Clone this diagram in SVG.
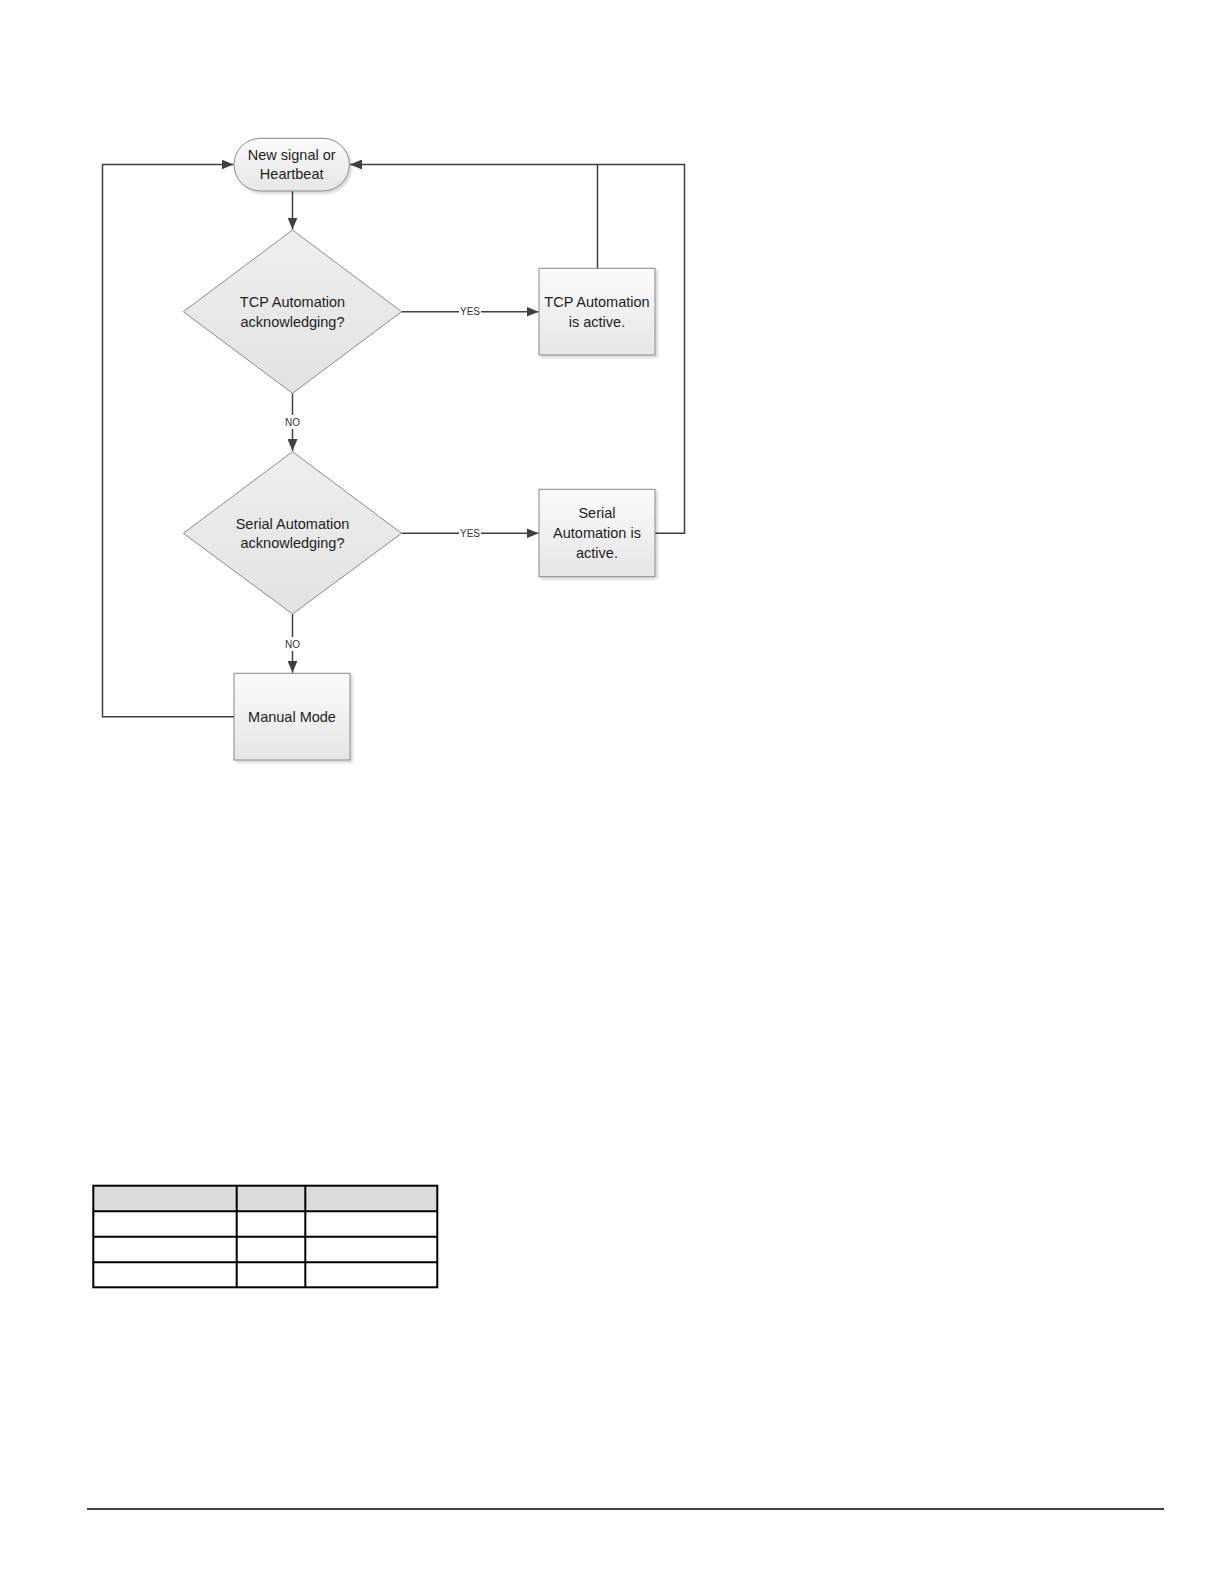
<svg xmlns="http://www.w3.org/2000/svg" width="1224" height="1584" viewBox="0 0 1224 1584">
<style>
.lbl{font-family:"Liberation Sans",Arial,sans-serif;font-size:14.5px;fill:#1e1e1e;text-anchor:middle;dominant-baseline:central}
.small{font-family:"Liberation Sans",Arial,sans-serif;font-size:10px;fill:#333;text-anchor:middle;dominant-baseline:central}
.shape{stroke:#8a8a8a;stroke-width:1}
.conn{fill:none;stroke:#404040;stroke-width:1.5}
.tbl{fill:none;stroke:#000;stroke-width:2}
</style>
<defs>
<linearGradient id="gBox" x1="0" y1="0" x2="0" y2="1">
<stop offset="0" stop-color="#fbfbfb"/>
<stop offset="1" stop-color="#e6e6e6"/>
</linearGradient>
<linearGradient id="gDia" x1="0" y1="0" x2="0" y2="1">
<stop offset="0" stop-color="#eeeeee"/>
<stop offset="1" stop-color="#e3e3e3"/>
</linearGradient>
<filter id="sh" x="-10%" y="-10%" width="130%" height="130%">
<feDropShadow dx="2" dy="2" stdDeviation="1.5" flood-color="#000" flood-opacity="0.18"/>
</filter>
<marker id="arr" viewBox="0 0 12 10" refX="12" refY="5" markerWidth="12" markerHeight="10" markerUnits="userSpaceOnUse" orient="auto">
<path d="M0,0 L12,5 L0,10 Z" fill="#404040"/>
</marker>
</defs>
<rect width="1224" height="1584" fill="#fff"/>

<g id="connectors">
<path class="conn" d="M292.5,191 V229.5" marker-end="url(#arr)"/>
<path class="conn" d="M401.6,311.7 H538.5" marker-end="url(#arr)"/>
<path class="conn" d="M292.5,393.3 V451" marker-end="url(#arr)"/>
<path class="conn" d="M401.6,533.3 H538.5" marker-end="url(#arr)"/>
<path class="conn" d="M292.5,614 V672.8" marker-end="url(#arr)"/>
<path class="conn" d="M234,716.7 H102.5 V164.5 H233.5" marker-end="url(#arr)"/>
<path class="conn" d="M597.5,268.3 V164.5 H350" marker-end="url(#arr)"/>
<path class="conn" d="M655,533.3 H684.5 V164.5 H597.5"/>
<rect x="459" y="305" width="22" height="13" fill="#fff"/>
<text class="small" x="470" y="311.7">YES</text>
<rect x="459" y="527" width="22" height="13" fill="#fff"/>
<text class="small" x="470" y="533.3">YES</text>
<rect x="283" y="415" width="19" height="14" fill="#fff"/>
<text class="small" x="292.5" y="422.3">NO</text>
<rect x="283" y="637" width="19" height="14" fill="#fff"/>
<text class="small" x="292.5" y="644">NO</text>
</g>

<g id="start">
<rect class="shape" x="234" y="138.3" width="115.3" height="52.7" rx="26.3" fill="url(#gBox)" filter="url(#sh)"/>
<text class="lbl" x="291.7" y="155">New signal or</text>
<text class="lbl" x="291.7" y="174.3">Heartbeat</text>
</g>

<g id="tcp_decision">
<polygon class="shape" points="292.5,230 401.6,311.7 292.5,393.3 183.3,311.7" fill="url(#gDia)"/>
<text class="lbl" x="292.5" y="302">TCP Automation</text>
<text class="lbl" x="292.5" y="321.5">acknowledging?</text>
</g>

<g id="tcp_active">
<rect class="shape" x="539" y="268.3" width="116" height="86.7" fill="url(#gBox)" filter="url(#sh)"/>
<text class="lbl" x="597" y="302.3">TCP Automation</text>
<text class="lbl" x="597" y="321.7">is active.</text>
</g>

<g id="serial_decision">
<polygon class="shape" points="292.5,451.7 401.6,533.3 292.5,614 183.3,533.3" fill="url(#gDia)"/>
<text class="lbl" x="292.5" y="523.7">Serial Automation</text>
<text class="lbl" x="292.5" y="543.3">acknowledging?</text>
</g>

<g id="serial_active">
<rect class="shape" x="539" y="489.3" width="116" height="87.4" fill="url(#gBox)" filter="url(#sh)"/>
<text class="lbl" x="597" y="513.3">Serial</text>
<text class="lbl" x="597" y="533.3">Automation is</text>
<text class="lbl" x="597" y="552.7">active.</text>
</g>

<g id="manual_mode">
<rect class="shape" x="234" y="673.3" width="116" height="86.7" fill="url(#gBox)" filter="url(#sh)"/>
<text class="lbl" x="292" y="717">Manual Mode</text>
</g>

<g id="table">
<rect x="93.3" y="1185.7" width="344" height="25.6" fill="#dcdcdc"/>
<rect class="tbl" x="93.3" y="1185.7" width="344" height="101.6"/>
<line class="tbl" x1="93.3" y1="1211.3" x2="437.3" y2="1211.3" stroke-width="1.5"/>
<line class="tbl" x1="93.3" y1="1236.7" x2="437.3" y2="1236.7"/>
<line class="tbl" x1="93.3" y1="1262.3" x2="437.3" y2="1262.3" stroke-width="1.5"/>
<line class="tbl" x1="236.7" y1="1185.7" x2="236.7" y2="1287.3" stroke-width="1.5"/>
<line class="tbl" x1="305.3" y1="1185.7" x2="305.3" y2="1287.3" stroke-width="1.5"/>
</g>

<line x1="87" y1="1509" x2="1164" y2="1509" stroke="#000" stroke-width="1.5"/>
</svg>
